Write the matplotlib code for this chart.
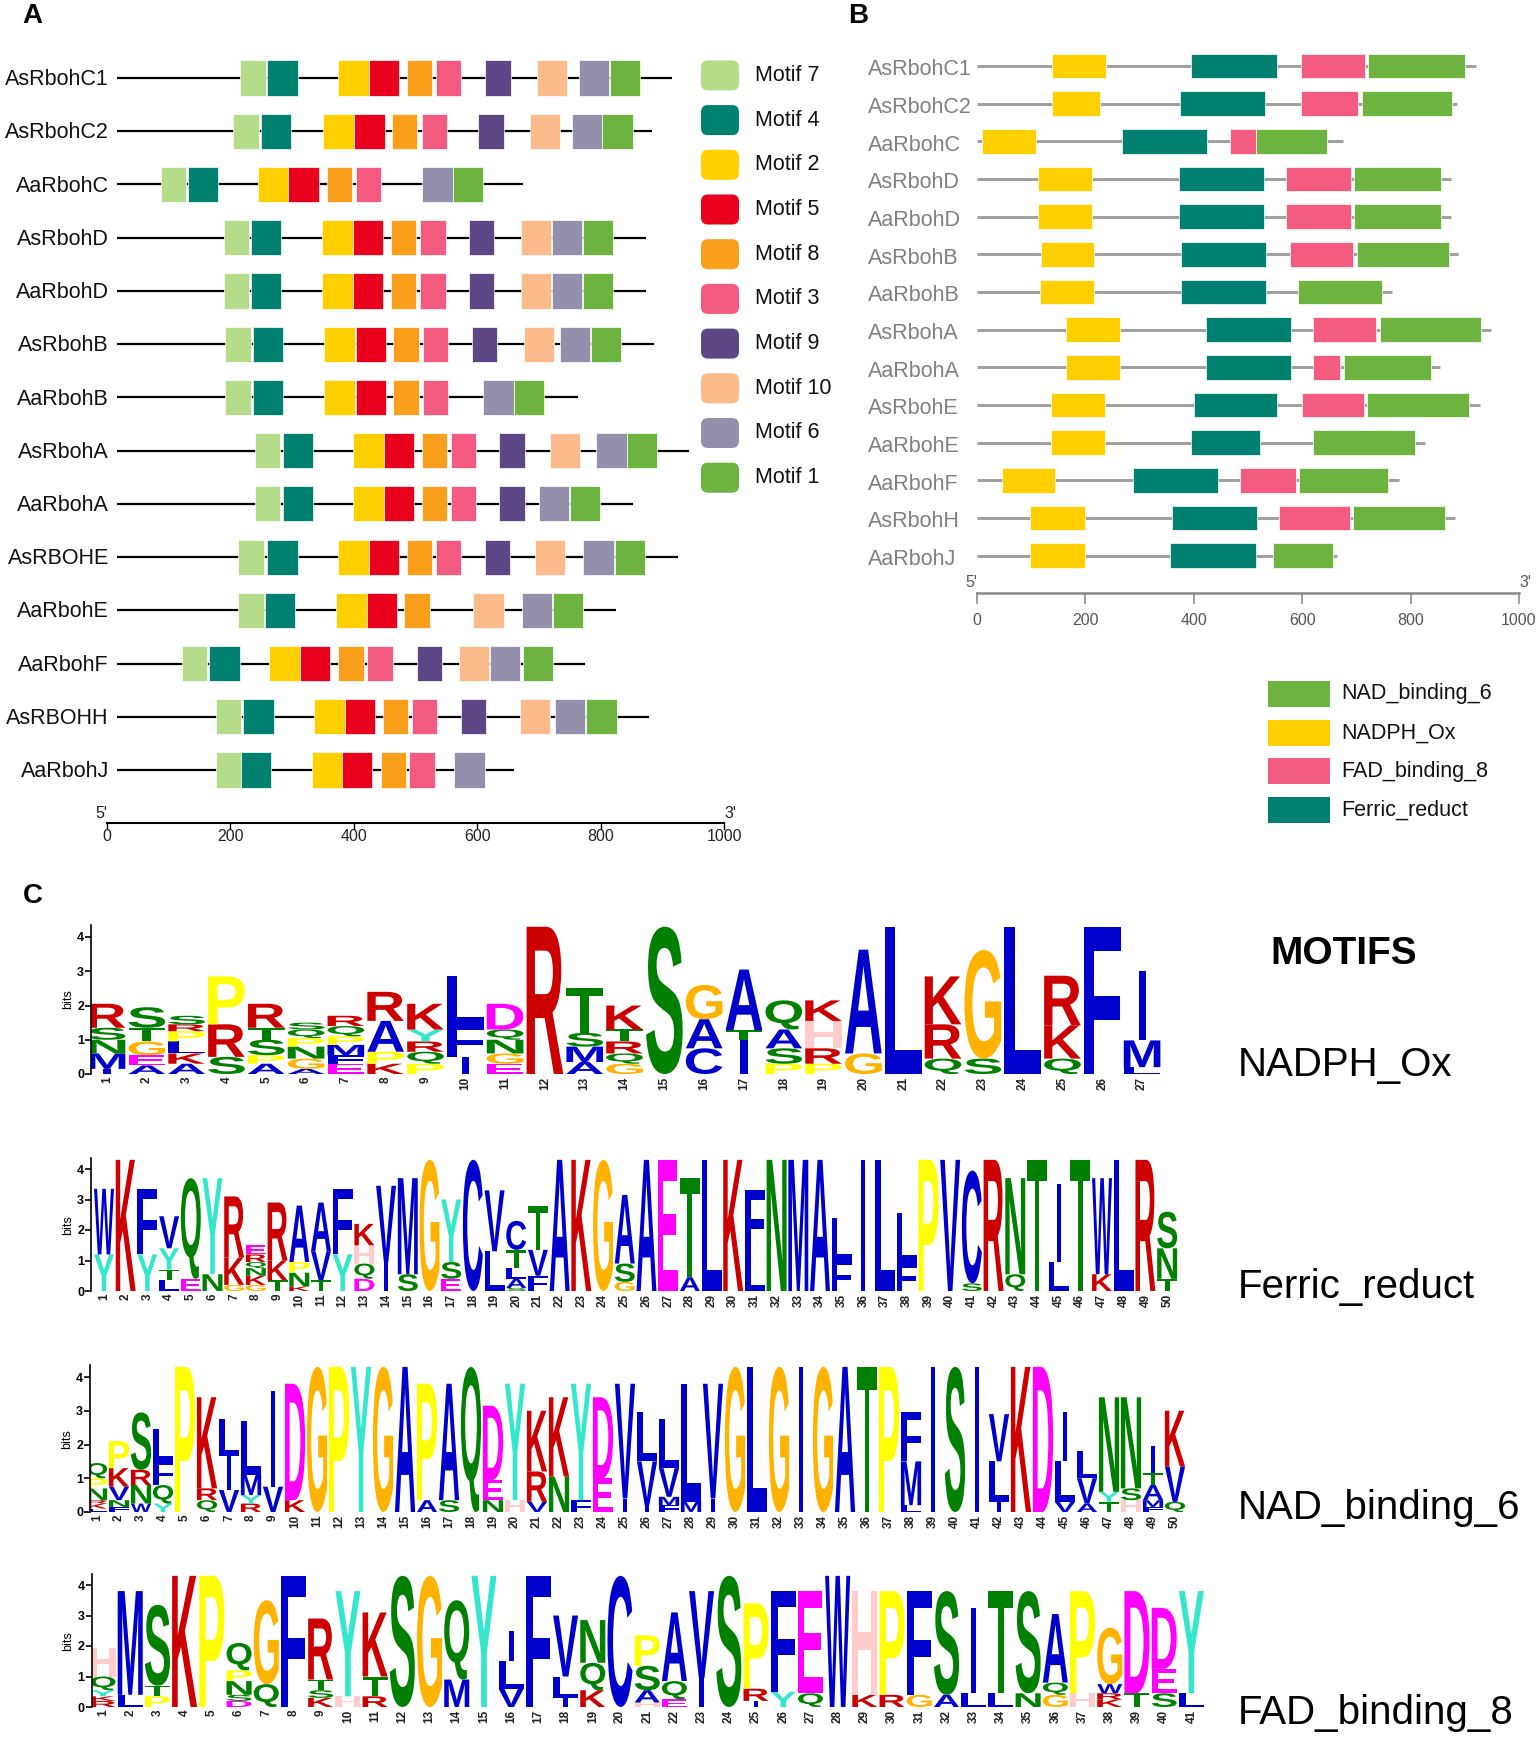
import matplotlib
matplotlib.use("Agg")
import matplotlib.pyplot as plt
import matplotlib.transforms as mtransforms
from matplotlib.patches import Rectangle, FancyBboxPatch, PathPatch
from matplotlib.textpath import TextPath
from matplotlib.font_manager import FontProperties

plt.rcParams['font.family'] = ['Liberation Sans', 'DejaVu Sans']

# ---------------- panel A : MEME motifs along each protein ----------------
genes_a = ['AsRbohC1', 'AsRbohC2', 'AaRbohC', 'AsRbohD', 'AaRbohD', 'AsRbohB', 'AaRbohB',
           'AsRbohA', 'AaRbohA', 'AsRBOHE', 'AaRbohE', 'AaRbohF', 'AsRBOHH', 'AaRbohJ']
length_a = [916, 883, 674, 873, 873, 886, 763, 944, 853, 925, 825, 774, 879, 660]

motif_names = ['Motif 7', 'Motif 4', 'Motif 2', 'Motif 5', 'Motif 8',
               'Motif 3', 'Motif 9', 'Motif 10', 'Motif 6', 'Motif 1']
motif_len = [41, 49, 50, 49, 41, 41, 41, 49, 49, 49]
motif7 = [216, 205, 87, 189, 189, 192, 192, 240, 240, 213, 213, 121, 176, 176]
motif4 = [260, 249, 131, 233, 233, 237, 237, 285, 285, 260, 256, 166, 221, 217]
motif2 = [374, 350, 244, 348, 348, 352, 352, 399, 399, 375, 371, 263, 335, 332]
motif5 = [425, 401, 294, 399, 399, 403, 403, 449, 449, 425, 421, 313, 385, 381]
motif8 = [486, 462, 356, 460, 460, 464, 464, 510, 510, 486, 482, 375, 447, 444]
motif3 = [533, 510, 403, 508, 508, 512, 512, 557, 557, 533, None, 422, 494, 490]
motif9 = [613, 602, None, 587, 587, 591, None, 636, 636, 612, None, 502, 574, None]
motif10 = [697, 686, None, 671, 671, 676, None, 718, None, 694, 594, 570, 669, None]
motif6 = [765, 754, 511, 721, 721, 734, 610, 793, 700, 772, 673, 621, 726, 563]
motif1 = [815, 803, 561, 771, 771, 784, 660, 843, 750, 823, 723, 674, 777, None]
motif_colors = ['#b5dc89', '#00806f', '#ffcf00', '#e8001d', '#f99f1c',
                '#f25a80', '#5c4685', '#fdba8a', '#948fab', '#6db33f']

# ---------------- panel B : Pfam domains ----------------
genes_b = ['AsRbohC1', 'AsRbohC2', 'AaRbohC', 'AsRbohD', 'AaRbohD', 'AsRbohB', 'AaRbohB',
           'AsRbohA', 'AaRbohA', 'AsRbohE', 'AaRbohE', 'AaRbohF', 'AsRbohH', 'AaRbohJ']
length_b = [920, 885, 675, 874, 874, 888, 765, 948, 855, 928, 826, 778, 882, 664]
nadph_ox = [(138, 238), (138, 227), (9, 108), (112, 212), (112, 212), (118, 215), (116, 215),
            (165, 263), (165, 263), (136, 237), (136, 237), (46, 144), (98, 199), (98, 199)]
ferric_reduct = [(395, 553), (374, 531), (268, 424), (372, 529), (372, 529), (377, 533), (376, 533),
                 (423, 579), (423, 579), (400, 554), (395, 523), (287, 445), (359, 516), (356, 514)]
fad_binding_8 = [(597, 715), (597, 703), (466, 514), (571, 690), (571, 690), (578, 694), None,
                 (620, 736), (620, 669), (599, 714), None, (486, 588), (558, 688), None]
nad_binding_6 = [(722, 901), (711, 876), (514, 646), (695, 857), (695, 857), (701, 870), (592, 747),
                 (743, 930), (678, 837), (720, 908), (620, 808), (595, 759), (693, 863), (547, 657)]
domain_names = ['NAD_binding_6', 'NADPH_Ox', 'FAD_binding_8', 'Ferric_reduct']
domain_colors = ['#6db33f', '#ffcf00', '#f45b80', '#00806f']

scale_ticks = [0, 200, 400, 600, 800, 1000]

# ---------------- panel C : sequence logos (letter + bits, bottom to top) ----------------
nadph_ox_logo = [
    "I.15 M.45 N.4 S.35 R.7", "A.25 E.3 G.4 T.4 S.6", "A.3 K.3 L.35 P.3 R.2 S.25",
    "S.5 R.95 P1.4", "A.3 P.25 S.45 T.35 R.7", "A.15 G.3 N.35 P.25 Q.25 S.2",
    "E.3 F.25 M.3 P.25 Q.3 R.3", "K.3 P.35 A.9 R.85", "P.3 Q.35 R.3 Y.35 K.75",
    "I.5 F.95 L1.4", "E.3 G.3 N.4 Q.3 D.75", "R4.3", "A.35 M.45 S.4 T1.3",
    "G.3 Q.3 R.35 T.35 K.7", "S4.3", "C.75 A.85 G1.0", "I1.0 T.28 A1.77",
    "P.3 S.45 A.55 Q.85", "P.3 R.45 H.8 K.6", "G.6 A3.03", "L4.3", "Q.45 R1.0 K1.4",
    "S.45 G3.17", "L4.3", "Q.45 K.97 R1.45", "F4.3", "L.2 M.78 I2.04",
]
ferric_logo = [
    "Y1.2 W2.15", "K4.3", "Y1.2 F2.15", "L.35 T.35 Y.7 V1.05", "E.4 Q3.3", "N.55 Y3.15",
    "G.2 K.9 R2.0", "G.2 K.3 N.25 Q.2 R.25 E.3", "T.35 K.65 R1.9", "K.15 N.45 P.35 A1.85",
    "T.35 V.95 A1.6", "Y1.2 F2.15", "D.4 Q.5 H.6 K.7", "I.95 V2.5", "S.55 M3.15", "G4.3",
    "E.4 S.55 Y2.05", "C4.3", "L1.3 V2.0", "S.1 A.3 L.35 T.6 C.95", "F.5 V.85 T1.45",
    "A4.3", "K4.3", "G4.3", "G.3 S.6 A2.25", "A4.3", "E4.3", "A.45 T3.25", "L4.3", "K4.3",
    "L1.3 F2.0", "N4.3", "M4.3", "A4.3", "F1.0 L1.4", "I4.3", "L4.3", "F.9 L1.65", "P4.3",
    "V4.3", "S.25 C3.7", "R4.3", "Q.55 N3.15", "T4.3", "L.95 I2.55", "T4.3", "K.55 W3.15",
    "L4.3", "R4.3", "T.4 N1.0 S1.2",
]
nad_logo = [
    "L.1 K.15 R.1 N.35 P.3 Q.45", "F.15 N.2 V.4 K.55 P.8", "W.25 N.55 R.45 S1.7",
    "Y.25 Q.55 F.7 L.95", "P4.3", "Q.35 R.35 K2.7", "V.65 I1.0 L1.1", "R.25 Y.25 M.6 L1.6",
    "V.75 I2.85", "K.35 D3.45", "G4.3", "P4.3", "Y4.3", "G4.3", "A4.3", "A.35 P3.45",
    "S.35 A3.45", "Q4.3", "N.35 E.6 D2.2", "H.35 Y3.45", "V.3 R.9 K1.8", "N1.05 K2.35",
    "F.35 Y3.45", "E1.0 D2.4", "I.4 V3.4", "I.2 V1.3 L1.45", "F.2 M.25 V.85 L1.45",
    "M.3 L3.5", "I.4 V3.4", "G4.3", "L4.3", "G4.3", "I4.3", "G4.3", "A4.3", "T4.3", "P4.3",
    "L.2 M1.3 F1.45", "I4.3", "S4.3", "I4.3", "I.3 L1.2 V1.4", "K4.3", "D4.3",
    "V.3 L1.2 I1.45", "A.25 V.75 L.8", "T.3 Y.3 N2.8", "H.35 S.35 N2.7",
    "F.15 M.2 A.45 T.35 I.8", "Q.3 V1.05 K1.65",
]
fad_logo = [
    "R.2 K.15 Y.2 Q.45 H.95", "L.4 M3.4", "P.35 T.35 S2.65", "K4.3", "P4.3",
    "D.2 S.2 N.45 P.35 Q.9", "Q.75 G2.75", "F4.3", "K.3 S.25 T.35 R2.0", "H.35 Y3.45",
    "R.35 T.65 K2.1", "S4.3", "G4.3", "M.9 Q2.6", "Y4.3", "V.6 L.9 I1.0", "F4.3",
    "I.3 L.7 V2.0", "K.55 Q.9 N1.4", "C4.3", "H.15 A.4 S.8 P1.0", "E.25 Q.6 A2.25",
    "I.95 V2.85", "S4.3", "I.2 R.4 P2.8", "Y.5 F3.3", "Q.45 E3.35", "W4.3", "K.4 H3.4",
    "R.4 P3.4", "G.4 F3.4", "A.4 S3.4", "L.45 I2.8", "L.45 T3.35", "N.45 S3.35",
    "G.4 Q.4 A2.25", "H.45 P3.35", "K.25 R.2 W.3 G1.85", "T.45 D3.35", "S.45 E.8 D2.0",
    "L.45 Y3.35",
]
logo_titles = ['NADPH_Ox', 'Ferric_reduct', 'NAD_binding_6', 'FAD_binding_8']

aa_colors = {}
for ch in 'ACFILMVW':
    aa_colors[ch] = '#0000cc'
for ch in 'KR':
    aa_colors[ch] = '#cc0000'
for ch in 'DE':
    aa_colors[ch] = '#ff00ff'
for ch in 'NQST':
    aa_colors[ch] = '#008000'
aa_colors.update({'P': '#ffff00', 'G': '#ffb300', 'H': '#ffcccc', 'Y': '#33e6cc'})

W, H = 1536, 1738
fig = plt.figure(figsize=(W / 100, H / 100), dpi=100)


def px_axes(x0, y0, x1, y1):
    # axes from pixel box (origin top-left)
    return fig.add_axes([x0 / W, 1 - y1 / H, (x1 - x0) / W, (y1 - y0) / H])


# ---- panel A
axA = px_axes(107, 40, 724, 860)
axA.set_xlim(0, 1000)
axA.set_ylim(14.69, -0.714)
axA.axis('off')
starts_a = [motif7, motif4, motif2, motif5, motif8, motif3, motif9, motif10, motif6, motif1]
for i, g in enumerate(genes_a):
    axA.plot([16, length_a[i]], [i, i], color='black', lw=1.6, zorder=1, solid_capstyle='butt')
    axA.text(3, i + 0.03, g, ha='right', va='center', fontsize=15.5, color='#111111')
    for starts, ln, col in zip(starts_a, motif_len, motif_colors):
        if starts[i] is None:
            continue
        axA.add_patch(Rectangle((starts[i], i - 0.33), ln, 0.66, facecolor=col,
                                edgecolor='white', lw=0.5, zorder=2))
axA.plot([0, 1000], [14, 14], color='black', lw=1.5, clip_on=False)
for t in scale_ticks:
    axA.plot([t, t], [14, 14.1], color='black', lw=1, clip_on=False)
    axA.text(t, 14.25, str(t), ha='center', va='center', fontsize=11.5, color='#222222')
axA.text(0, 13.95, "5'", ha='right', va='bottom', fontsize=11.5, color='#222222')
axA.text(1000, 13.95, "3'", ha='left', va='bottom', fontsize=11.5, color='#222222')

# ---- panel B
axB = px_axes(977, 30, 1519, 640)
axB.set_xlim(0, 1000)
axB.set_ylim(15.24, -0.956)
axB.axis('off')
for i, g in enumerate(genes_b):
    axB.plot([0, length_b[i]], [i, i], color='#a0a0a0', lw=2.2, zorder=1, solid_capstyle='butt')
    axB.text(-201, i + 0.1, g, ha='left', va='center', fontsize=15.5, color='#808080')
    for dom, col in zip([nad_binding_6, nadph_ox, fad_binding_8, ferric_reduct], domain_colors):
        if dom[i] is None:
            continue
        s, e = dom[i]
        axB.add_patch(Rectangle((s, i - 0.33), e - s, 0.66, facecolor=col,
                                edgecolor='white', lw=0.5, zorder=2))
axB.plot([0, 1000], [14, 14], color='#8a8a8a', lw=1.8, clip_on=False)
for t in scale_ticks:
    axB.plot([t, t], [14, 14.27], color='#8a8a8a', lw=1.2, clip_on=False)
    axB.text(t, 14.72, str(t), ha='center', va='center', fontsize=11.5, color='#555555')
axB.text(0, 13.9, "5'", ha='right', va='bottom', fontsize=11.5, color='#555555')
axB.text(1000, 13.9, "3'", ha='left', va='bottom', fontsize=11.5, color='#555555')

# ---- panel C logos
letter_fp = FontProperties(family='Liberation Sans', weight='bold')
glyphs = {}


def draw_logo(ax, columns):
    for pos, col in enumerate(columns, start=1):
        y = 0.0
        for tok in col.split():
            ch, h = tok[0], float(tok[1:])
            if ch not in glyphs:
                glyphs[ch] = TextPath((0, 0), ch, size=10, prop=letter_fp)
            path = glyphs[ch]
            ext = path.get_extents()
            w = 0.18 if ch == 'I' else 0.92
            tr = (mtransforms.Affine2D().translate(-ext.x0, -ext.y0)
                  .scale(w / ext.width, h / ext.height).translate(pos - w / 2, y))
            ax.add_patch(PathPatch(tr.transform_path(path), facecolor=aa_colors[ch],
                                   edgecolor='none', lw=0))
            y += h
    n = len(columns)
    ax.set_ylim(0, 4.35)
    for side in ['top', 'right', 'bottom']:
        ax.spines[side].set_visible(False)
    ax.spines['left'].set_linewidth(1.2)
    ax.set_yticks([0, 1, 2, 3, 4])
    ax.set_yticklabels(['0', '1', '2', '3', '4'], fontsize=9, fontweight='bold')
    ax.set_xticks(range(1, n + 1))
    ax.set_xticklabels([str(k) for k in range(1, n + 1)], rotation=90,
                       fontsize=8.5, fontweight='bold', color='#222222')
    ax.tick_params(axis='x', length=0, pad=2)
    ax.tick_params(axis='y', length=4, width=1.2, pad=1)
    ax.set_ylabel('bits', fontsize=9, labelpad=2)
    ax.patch.set_alpha(0)


logo_boxes = [
    # x0, x1, y_zero, px per bit, left xlim
    (91, 1162, 1074, 34.25, 0.598),
    (91, 1178, 1291, 30.5, 0.40),
    (90, 1186, 1512, 33.75, 0.68),
    (91.5, 1205, 1707, 30.5, 0.577),
]
logos = [nadph_ox_logo, ferric_logo, nad_logo, fad_logo]
for cols, (x0, x1, y0, pb, xl) in zip(logos, logo_boxes):
    ax = px_axes(x0, y0 - 4.35 * pb, x1, y0)
    ax.set_xlim(xl, len(cols) + 0.5)
    draw_logo(ax, cols)

# ---- overlay for labels and legends (pixel coordinates)
ov = fig.add_axes([0, 0, 1, 1])
ov.set_xlim(0, W)
ov.set_ylim(H, 0)
ov.axis('off')
ov.patch.set_alpha(0)

ov.text(32, 16, 'A', ha='center', va='center', fontsize=20, fontweight='bold')
ov.text(858, 16, 'B', ha='center', va='center', fontsize=20, fontweight='bold')
ov.text(33, 896, 'C', ha='center', va='center', fontsize=20, fontweight='bold')

for k, (name, col) in enumerate(zip(motif_names, motif_colors)):
    yc = 75.4 + k * 44.7
    ov.add_patch(FancyBboxPatch((701, yc - 15), 38, 30,
                                boxstyle='round,pad=0,rounding_size=7',
                                facecolor=col, edgecolor='none'))
    ov.text(755, yc, name, ha='left', va='center', fontsize=15.5, color='#111111')

for k, (name, col) in enumerate(zip(domain_names, domain_colors)):
    yc = 694 + k * 38.7
    ov.add_patch(Rectangle((1268, yc - 13), 62, 26, facecolor=col, edgecolor='none'))
    ov.text(1341, yc, name, ha='left', va='center', fontsize=15.5, color='#111111')

ov.text(1344, 954, 'MOTIFS', ha='center', va='center', fontsize=28, fontweight='bold')
for title, ty in zip(logo_titles, [1065, 1287, 1508, 1713]):
    ov.text(1238, ty, title, ha='left', va='center', fontsize=29, color='black')

fig.savefig('out.png', dpi=100, facecolor='white')
